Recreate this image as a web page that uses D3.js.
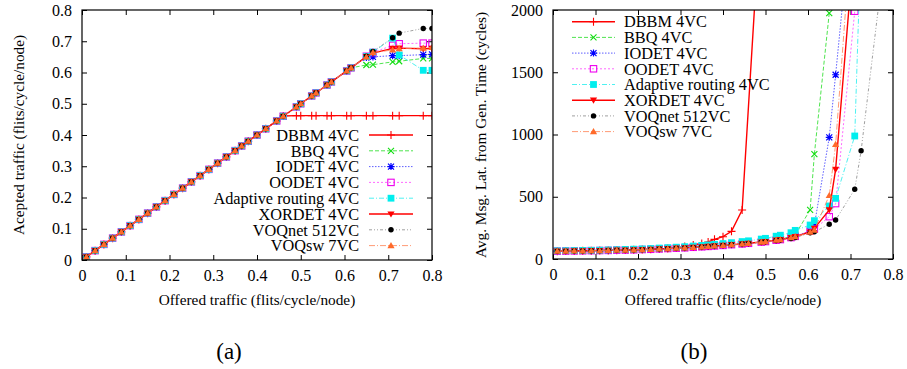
<!DOCTYPE html>
<html><head><meta charset="utf-8">
<script src="https://cdn.jsdelivr.net/npm/d3@7"></script>
<style>
body{margin:0;background:#fff;}
svg{display:block;}
svg text{font-family:"Liberation Serif","DejaVu Serif",serif;}
</style></head><body>
<svg id="c" width="907" height="369"></svg>
<script>
// ---------- data ----------
const offered = [0.01,0.03,0.05,0.07,0.09,0.11,0.13,0.15,0.17,0.19,0.21,0.23,0.25,0.27,0.29,0.31,0.33,0.35,0.365,0.38,0.40,0.42,0.445,0.46,0.49,0.50,0.525,0.535,0.56,0.57,0.605,0.615,0.65,0.665,0.71,0.725,0.78,0.80];

const seriesNames = ["DBBM 4VC","BBQ 4VC","IODET 4VC","OODET 4VC","Adaptive routing 4VC","XORDET 4VC","VOQnet 512VC","VOQsw 7VC"];

// accepted traffic (chart a)
const accDBBM     = [0.01,0.03,0.05,0.07,0.09,0.11,0.13,0.15,0.17,0.19,0.21,0.23,0.25,0.27,0.29,0.31,0.33,0.35,0.365,0.38,0.40,0.42,0.445,0.461,0.462,0.462,0.462,0.462,0.462,0.462,0.462,0.462,0.462,0.462,0.462,0.462,0.462,0.462];
const accBBQ      = [0.01,0.03,0.05,0.07,0.09,0.11,0.13,0.15,0.17,0.19,0.21,0.23,0.25,0.27,0.29,0.31,0.33,0.35,0.365,0.38,0.40,0.42,0.445,0.46,0.49,0.50,0.525,0.535,0.56,0.57,0.605,0.615,0.624,0.625,0.634,0.636,0.645,0.645];
const accIODET    = [0.01,0.03,0.05,0.07,0.09,0.11,0.13,0.15,0.17,0.19,0.21,0.23,0.25,0.27,0.29,0.31,0.33,0.35,0.365,0.38,0.40,0.42,0.445,0.46,0.49,0.50,0.525,0.535,0.56,0.57,0.605,0.615,0.648,0.650,0.654,0.654,0.657,0.658];
const accOODET    = [0.01,0.03,0.05,0.07,0.09,0.11,0.13,0.15,0.17,0.19,0.21,0.23,0.25,0.27,0.29,0.31,0.33,0.35,0.365,0.38,0.40,0.42,0.445,0.46,0.49,0.50,0.525,0.535,0.56,0.57,0.605,0.615,0.652,0.664,0.687,0.692,0.694,0.694];
const accAdaptive = [0.01,0.03,0.05,0.07,0.09,0.11,0.13,0.15,0.17,0.19,0.21,0.23,0.25,0.27,0.29,0.31,0.33,0.35,0.365,0.38,0.40,0.42,0.445,0.46,0.49,0.50,0.525,0.535,0.56,0.57,0.605,0.615,0.651,0.665,0.710,0.656,0.607,0.607];
const accXORDET   = [0.01,0.03,0.05,0.07,0.09,0.11,0.13,0.15,0.17,0.19,0.21,0.23,0.25,0.27,0.29,0.31,0.33,0.35,0.365,0.38,0.40,0.42,0.445,0.46,0.49,0.50,0.525,0.535,0.56,0.57,0.605,0.615,0.651,0.662,0.677,0.678,0.676,0.677];
const accVOQnet   = [0.01,0.03,0.05,0.07,0.09,0.11,0.13,0.15,0.17,0.19,0.21,0.23,0.25,0.27,0.29,0.31,0.33,0.35,0.365,0.38,0.40,0.42,0.445,0.46,0.49,0.50,0.525,0.535,0.56,0.57,0.605,0.615,0.652,0.667,0.711,0.726,0.741,0.741];
const accVOQsw    = [0.01,0.03,0.05,0.07,0.09,0.11,0.13,0.15,0.17,0.19,0.21,0.23,0.25,0.27,0.29,0.31,0.33,0.35,0.365,0.38,0.40,0.42,0.445,0.46,0.49,0.50,0.525,0.535,0.56,0.57,0.605,0.615,0.650,0.664,0.672,0.676,0.678,0.680];

// latency (chart b); null = not drawn
const latDBBM     = [63,64,65,66,67,68,69,71,72,74,76,78,81,84,88,100,112,124,137,158,179,222,394,null,2900,null,null,null,null,null,null,null,null,null,null,null,null,null];
const latBBQ      = [63,64,65,66,67,68,69,71,72,74,76,78,81,84,87,90,94,98,101,105,109,115,121,126,137,142,155,160,180,195,394,843,1975,3500,null,null,null,null];
const latIODET    = [63,64,65,66,67,68,69,71,72,74,76,78,81,84,87,90,94,98,101,105,109,115,121,126,136,140,151,156,172,182,225,273,977,1480,3040,null,null,null];
const latOODET    = [63,64,65,66,67,68,69,71,72,74,76,78,81,84,87,90,94,98,101,105,109,115,121,126,136,140,151,156,172,182,225,240,340,445,1990,4000,null,null];
const latAdaptive = [66,67,68,69,70,71,73,75,77,79,81,84,88,91,95,99,104,109,113,118,124,131,140,146,160,166,183,191,211,230,273,308,426,487,988,2600,null,null];
const latXORDET   = [63,64,65,66,67,68,69,71,72,74,76,78,81,84,87,90,94,98,101,105,109,115,121,126,136,140,151,156,171,179,217,246,394,720,2580,null,null,null];
const latVOQnet   = [62,63,64,65,66,67,68,70,71,73,75,77,80,83,86,89,93,97,100,104,108,114,120,124,134,138,148,153,165,172,210,218,279,313,560,870,2424,null];
const latVOQsw    = [63,64,65,66,67,68,69,71,72,74,76,78,81,84,87,90,94,98,101,105,109,115,121,126,136,140,151,156,171,179,215,232,510,920,3000,null,null,null];

const xTicks = [0,0.1,0.2,0.3,0.4,0.5,0.6,0.7,0.8];
const yTicksA = [0,0.1,0.2,0.3,0.4,0.5,0.6,0.7,0.8];
const yTicksB = [0,500,1000,1500,2000];

// ---------- styles ----------
const FONT = "Liberation Serif, DejaVu Serif, serif";
const styles = [
  {color:"#ff0000", dash:null,        width:1.4, marker:"plus",  mcolor:"#ff0000"},
  {color:"#22dd22", dash:"4,2",       width:0.8, marker:"x",     mcolor:"#11dd11"},
  {color:"#3333ff", dash:"1.5,1.5",   width:0.8, marker:"star",  mcolor:"#0000ff"},
  {color:"#ff44ff", dash:"2,2",       width:0.8, marker:"osq",   mcolor:"#ee00ee"},
  {color:"#22eeee", dash:"5,2,1,2",   width:0.8, marker:"fsq",   mcolor:"#00eeee"},
  {color:"#ff0000", dash:null,        width:1.4, marker:"dtri",  mcolor:"#ff0000"},
  {color:"#888888", dash:"3,2,1,2,1,2",width:0.8,marker:"circ",  mcolor:"#000000"},
  {color:"#ff8050", dash:"6,2,1,2",   width:0.8, marker:"utri",  mcolor:"#ff6a2a"}
];
const accData = [accDBBM,accBBQ,accIODET,accOODET,accAdaptive,accXORDET,accVOQnet,accVOQsw];
const latData = [latDBBM,latBBQ,latIODET,latOODET,latAdaptive,latXORDET,latVOQnet,latVOQsw];

const svg = d3.select("#c");

function drawMarker(g, type, col, x, y){
  const m = g.append("g").attr("transform",`translate(${x},${y})`);
  switch(type){
    case "plus": m.append("path").attr("d","M-4,0H4M0,-4V4").attr("stroke",col).attr("stroke-width",1.1).attr("fill","none"); break;
    case "x": m.append("path").attr("d","M-3,-3L3,3M-3,3L3,-3").attr("stroke",col).attr("stroke-width",1.1).attr("fill","none"); break;
    case "star": m.append("path").attr("d","M-3,-3L3,3M-3,3L3,-3M-3.5,0H3.5M0,-3.5V3.5").attr("stroke",col).attr("stroke-width",1.2).attr("fill","none"); break;
    case "osq": m.append("rect").attr("x",-3.2).attr("y",-3.2).attr("width",6.4).attr("height",6.4).attr("stroke",col).attr("stroke-width",1.1).attr("fill","none"); break;
    case "fsq": m.append("rect").attr("x",-3.4).attr("y",-3.4).attr("width",6.8).attr("height",6.8).attr("fill",col); break;
    case "dtri": m.append("path").attr("d","M-3.6,-2.6L3.6,-2.6L0,3.6Z").attr("fill",col); break;
    case "circ": m.append("circle").attr("r",2.7).attr("fill",col); break;
    case "utri": m.append("path").attr("d","M-3.6,2.6L3.6,2.6L0,-3.6Z").attr("fill",col); break;
  }
}

function drawChart(opts){
  const {x, y, yTicks, yFmt, data, clipId} = opts;
  const g = svg.append("g");
  const [x0,x1] = x.range(); const [y0,y1] = y.range();
  svg.append("defs").append("clipPath").attr("id",clipId)
    .append("rect").attr("x",x0).attr("y",y1).attr("width",x1-x0).attr("height",y0-y1);

  const fmtX = d => d===0 ? "0" : d3.format(".1f")(d);
  const ax = g.append("g").attr("transform",`translate(0,${y0})`)
    .call(d3.axisBottom(x).tickValues(xTicks).tickFormat(fmtX).tickSizeInner(-5).tickSizeOuter(0).tickPadding(10));
  const axT = g.append("g").attr("transform",`translate(0,${y1})`)
    .call(d3.axisTop(x).tickValues(xTicks).tickFormat("").tickSizeInner(-5).tickSizeOuter(0));
  const ay = g.append("g").attr("transform",`translate(${x0},0)`)
    .call(d3.axisLeft(y).tickValues(yTicks).tickFormat(yFmt).tickSizeInner(-5).tickSizeOuter(0).tickPadding(10));
  const ayR = g.append("g").attr("transform",`translate(${x1},0)`)
    .call(d3.axisRight(y).tickValues(yTicks).tickFormat("").tickSizeInner(-5).tickSizeOuter(0));
  [ax,axT,ay,ayR].forEach(a=>{
    a.attr("font-family",FONT);
    a.select(".domain").remove();
    a.selectAll("line").attr("stroke","#000").attr("stroke-width",1);
    a.selectAll("text").attr("font-family",FONT).attr("font-size",16).attr("fill","#000");
  });

  const pg = g.append("g").attr("clip-path",`url(#${clipId})`);
  data.forEach((arr,i)=>{
    const st = styles[i];
    const pts = offered.map((o,k)=>[o,arr[k]]).filter(p=>p[1]!==null);
    pg.append("path").datum(pts)
      .attr("d",d3.line().x(p=>x(p[0])).y(p=>y(p[1])))
      .attr("fill","none").attr("stroke",st.color).attr("stroke-width",st.width)
      .attr("stroke-dasharray",st.dash);
    pts.forEach(p=>{ if(y(p[1])>=y1-4) drawMarker(pg, st.marker, st.mcolor, x(p[0]), y(p[1])); });
  });

  g.append("rect").attr("x",x0).attr("y",y1).attr("width",x1-x0).attr("height",y0-y1)
    .attr("fill","none").attr("stroke","#000").attr("stroke-width",1.2);
  return g;
}

// chart (a)
const xA = d3.scaleLinear().domain([0,0.8]).range([82,432]);
const yA = d3.scaleLinear().domain([0,0.8]).range([260,10]);
const gA = drawChart({x:xA, y:yA, yTicks:yTicksA, yFmt:d=>d===0?"0":d3.format(".1f")(d), data:accData, clipId:"clipA"});

// chart (b)
const xB = d3.scaleLinear().domain([0,0.8]).range([553,893]);
const yB = d3.scaleLinear().domain([0,2000]).range([259,10]);
const gB = drawChart({x:xB, y:yB, yTicks:yTicksB, yFmt:d3.format("d"), data:latData, clipId:"clipB"});

// legends
const legFont = 16.3;
seriesNames.forEach((name,i)=>{
  const st = styles[i];
  const ly = 135 + i*15.8;
  gA.append("text").attr("x",359).attr("y",ly).attr("dy","0.35em").attr("text-anchor","end")
    .attr("font-family",FONT).attr("font-size",legFont).text(name);
  gA.append("line").attr("x1",369).attr("x2",413).attr("y1",ly).attr("y2",ly)
    .attr("stroke",st.color).attr("stroke-width",st.width).attr("stroke-dasharray",st.dash);
  drawMarker(gA, st.marker, st.mcolor, 391, ly);
  const ry = 21.7 + i*15.7;
  gB.append("line").attr("x1",572).attr("x2",615).attr("y1",ry).attr("y2",ry)
    .attr("stroke",st.color).attr("stroke-width",st.width).attr("stroke-dasharray",st.dash);
  drawMarker(gB, st.marker, st.mcolor, 593.5, ry);
  gB.append("text").attr("x",624).attr("y",ry).attr("dy","0.35em").attr("text-anchor","start")
    .attr("font-family",FONT).attr("font-size",legFont).text(name);
});

// axis titles
const tf = 15.3;
function txt(){ return svg.append("text").attr("font-family",FONT).attr("fill","#000"); }
txt().attr("x",257).attr("y",305).attr("text-anchor","middle").attr("font-size",tf).text("Offered traffic (flits/cycle/node)");
txt().attr("transform","translate(24,135) rotate(-90)").attr("text-anchor","middle").attr("font-size",tf).text("Acepted traffic (flits/cycle/node)");
txt().attr("x",723).attr("y",305).attr("text-anchor","middle").attr("font-size",tf).text("Offered traffic (flits/cycle/node)");
txt().attr("transform","translate(486,135) rotate(-90)").attr("text-anchor","middle").attr("font-size",tf).text("Avg. Msg. Lat. from Gen. Time (cycles)");

// sub captions
txt().attr("x",229).attr("y",359).attr("text-anchor","middle").attr("font-size",23).text("(a)");
txt().attr("x",694).attr("y",359).attr("text-anchor","middle").attr("font-size",23).text("(b)");
</script>
</body></html>
